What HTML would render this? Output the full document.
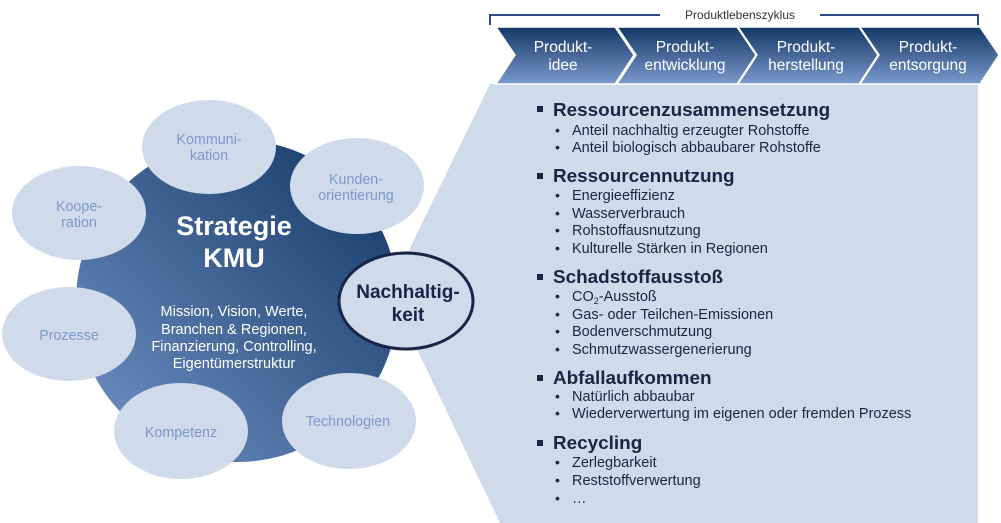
<!DOCTYPE html>
<html><head><meta charset="utf-8"><style>body{margin:0;background:#fff}svg{display:block}</style></head><body>
<svg width="1001" height="523" viewBox="0 0 1001 523" xmlns="http://www.w3.org/2000/svg" font-family="Liberation Sans, Arial, sans-serif">
<defs>
<linearGradient id="bg" x1="0" y1="1" x2="1" y2="0"><stop offset="0" stop-color="#7394c8"/><stop offset="1" stop-color="#0f3461"/></linearGradient>
<linearGradient id="cv" x1="0" y1="0" x2="0" y2="1"><stop offset="0" stop-color="#133866"/><stop offset="1" stop-color="#7b98cc"/></linearGradient>
</defs>
<polygon points="490,84 978,84 978,523 500,523 415,345 405,258" fill="#cfdaeb"/>
<circle cx="237" cy="301" r="161" fill="url(#bg)"/>
<g fill="#cfdaeb">
<ellipse cx="209" cy="147" rx="67" ry="47"/>
<ellipse cx="357" cy="186" rx="67" ry="48"/>
<ellipse cx="79" cy="213" rx="67" ry="47"/>
<ellipse cx="69" cy="334" rx="67" ry="47"/>
<ellipse cx="181" cy="431" rx="67" ry="48"/>
<ellipse cx="349" cy="421" rx="67" ry="48"/>
</g>
<ellipse cx="406" cy="301" rx="67" ry="48" fill="#cfdaeb" stroke="#1a2448" stroke-width="3"/>
<g fill="#7e97cc" font-size="14.3" text-anchor="middle">
<text x="209" y="144">Kommuni-</text><text x="209" y="160">kation</text>
<text x="356" y="184">Kunden-</text><text x="356" y="200">orientierung</text>
<text x="79" y="211">Koope-</text><text x="79" y="227">ration</text>
<text x="69" y="340">Prozesse</text>
<text x="181" y="437">Kompetenz</text>
<text x="348" y="426">Technologien</text>
</g>
<g fill="#fff" text-anchor="middle">
<text x="234" y="235" font-size="27" font-weight="bold">Strategie</text>
<text x="234" y="267" font-size="27" font-weight="bold">KMU</text>
<g font-size="14.5"><text x="234" y="316">Mission, Vision, Werte,</text><text x="234" y="334">Branchen &amp; Regionen,</text><text x="234" y="351">Finanzierung, Controlling,</text><text x="234" y="368">Eigentümerstruktur</text></g>
</g>
<g fill="#1a2448" font-size="19" font-weight="bold" text-anchor="middle"><text x="408" y="298">Nachhaltig-</text><text x="408" y="321">keit</text></g>
<path d="M490,25 V15 H978 V25" fill="none" stroke="#2d4a85" stroke-width="2"/>
<rect x="660" y="8" width="160" height="14" fill="#fff"/>
<text x="740" y="19" font-size="12" fill="#333" text-anchor="middle">Produktlebenszyklus</text>
<g fill="url(#cv)" stroke="#fff" stroke-width="1.5">
<polygon points="496,27 615,27 634,55 615,84 496,84 515,55"/>
<polygon points="617,27 737,27 756,55 737,84 617,84 636,55"/>
<polygon points="738,27 859,27 878,55 859,84 738,84 757,55"/>
<polygon points="860,27 980,27 999,55 980,84 860,84 879,55"/>
</g>
<g fill="#fff" font-size="15.5" text-anchor="middle">
<text x="563" y="52">Produkt-</text><text x="563" y="70">idee</text>
<text x="685" y="52">Produkt-</text><text x="685" y="70">entwicklung</text>
<text x="806" y="52">Produkt-</text><text x="806" y="70">herstellung</text>
<text x="928" y="52">Produkt-</text><text x="928" y="70">entsorgung</text>
</g>
<g fill="#1c2444">
<g font-size="18.9" font-weight="bold">
<text x="553" y="116">Ressourcenzusammensetzung</text>
<text x="553" y="182">Ressourcennutzung</text>
<text x="553" y="283">Schadstoffausstoß</text>
<text x="553" y="384">Abfallaufkommen</text>
<text x="553" y="449">Recycling</text>
</g>
<g><rect x="537" y="106" width="6" height="6"/><rect x="537" y="173" width="6" height="6"/><rect x="537" y="274" width="6" height="6"/><rect x="537" y="375" width="6" height="6"/><rect x="537" y="440" width="6" height="6"/></g>
<g font-size="14.5">
<text x="572" y="135">Anteil nachhaltig erzeugter Rohstoffe</text>
<text x="572" y="152">Anteil biologisch abbaubarer Rohstoffe</text>
<text x="572" y="200">Energieeffizienz</text>
<text x="572" y="218">Wasserverbrauch</text>
<text x="572" y="235">Rohstoffausnutzung</text>
<text x="572" y="253">Kulturelle Stärken in Regionen</text>
<text x="572" y="301">CO<tspan font-size="9" dy="3">2</tspan><tspan dy="-3">-Ausstoß</tspan></text>
<text x="572" y="319">Gas- oder Teilchen-Emissionen</text>
<text x="572" y="336">Bodenverschmutzung</text>
<text x="572" y="354">Schmutzwassergenerierung</text>
<text x="572" y="401">Natürlich abbaubar</text>
<text x="572" y="418">Wiederverwertung im eigenen oder fremden Prozess</text>
<text x="572" y="467">Zerlegbarkeit</text>
<text x="572" y="485">Reststoffverwertung</text>
<text x="572" y="503">…</text>
</g>
<g font-size="14">
<text x="555" y="135">•</text><text x="555" y="152">•</text>
<text x="555" y="200">•</text><text x="555" y="218">•</text><text x="555" y="235">•</text><text x="555" y="253">•</text>
<text x="555" y="301">•</text><text x="555" y="319">•</text><text x="555" y="336">•</text><text x="555" y="354">•</text>
<text x="555" y="401">•</text><text x="555" y="418">•</text>
<text x="555" y="467">•</text><text x="555" y="485">•</text><text x="555" y="503">•</text>
</g>
</g>
</svg>
</body></html>
